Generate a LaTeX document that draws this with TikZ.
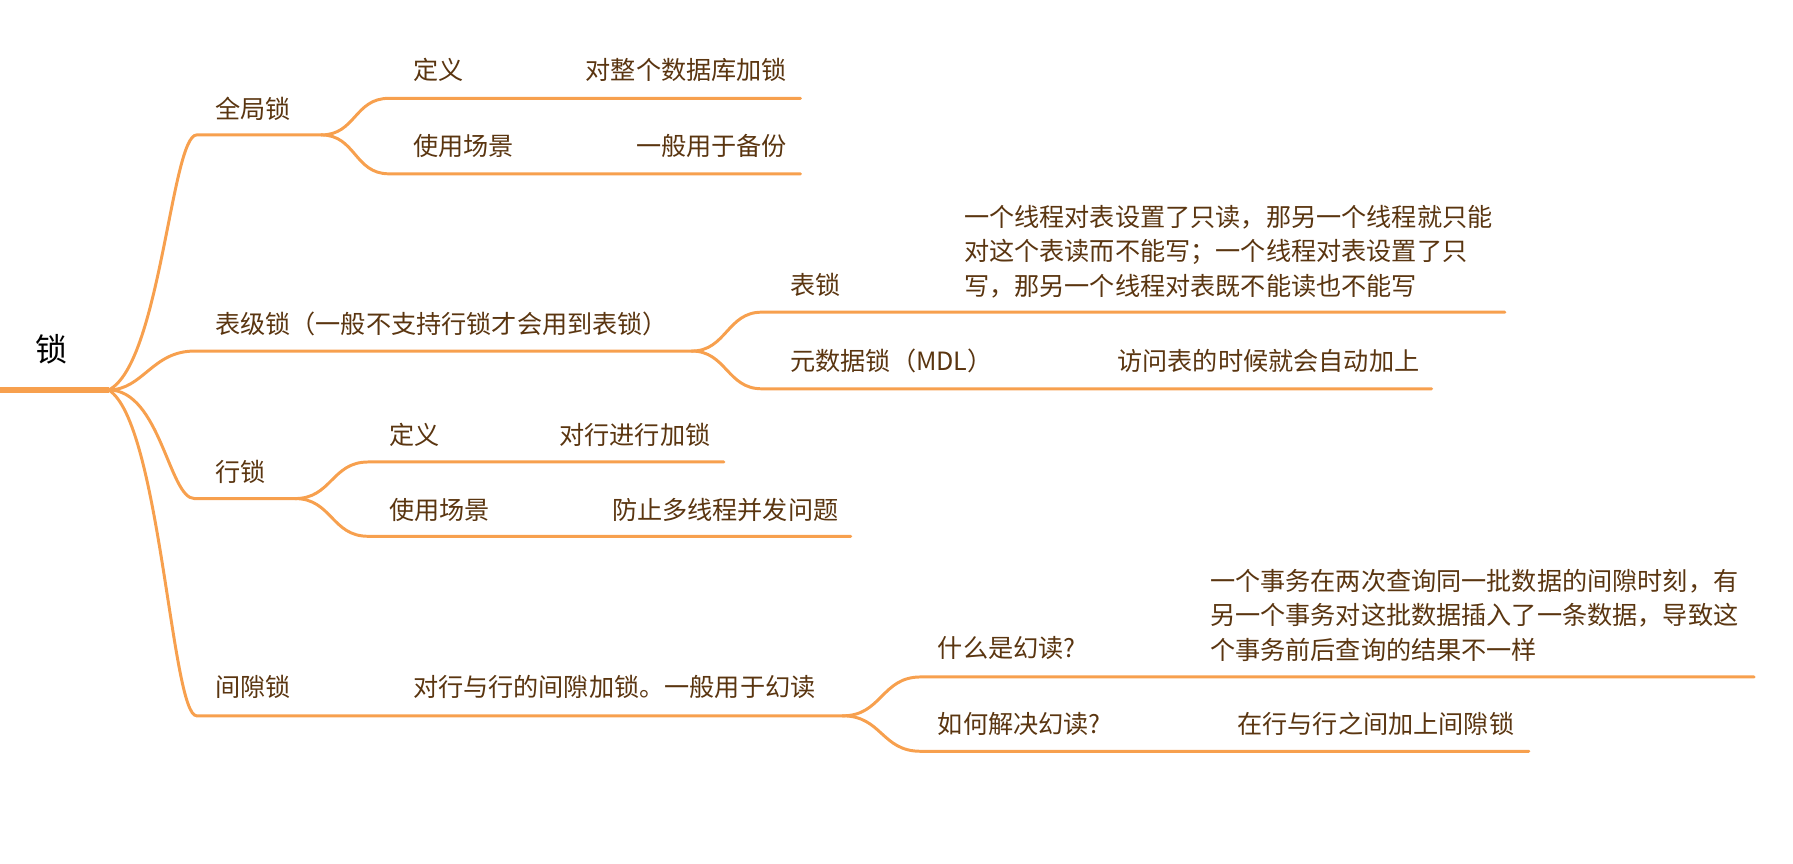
\documentclass[tikz,border=0pt]{standalone}
\usepackage{fontspec}
\setmainfont{Noto Sans CJK SC}
\definecolor{brc}{HTML}{F7A04E}
\definecolor{txc}{HTML}{5A3510}
\begin{document}
\begin{tikzpicture}[x=1pt,y=-1pt,
  lbl/.style={anchor=west,inner sep=0pt,text=txc,font=\fontsize{22}{30}\selectfont},
  mlbl/.style={lbl,align=left},
  edge/.style={draw=brc,line width=2.6pt,line cap=round},
  rootedge/.style={draw=brc,line width=4.5pt}
]
\useasboundingbox (0,0) rectangle (1568,755);

% root
\node[inner sep=0pt,font=\fontsize{28}{30}\selectfont,text=black] (root) at (45,305) {锁};
\coordinate (r0) at (0,341);
\coordinate (rf) at (95,341);
\draw[rootedge] (r0) -- (rf);

% level-1 coordinates
\coordinate (a0) at (172,118); \coordinate (af) at (281,118);
\coordinate (b0) at (170,307); \coordinate (bf) at (605,307);
\coordinate (c0) at (170,436); \coordinate (cf) at (258,436);
\coordinate (d0) at (172,626); \coordinate (df) at (737,626);

\draw[edge] (rf) .. controls +(45,-22) and +(-22,0) .. (a0) -- (af);
\draw[edge] (rf) .. controls +(30,0) and +(-37,0) .. (b0) -- (bf);
\draw[edge] (rf) .. controls +(45,0) and +(-22,0) .. (c0) -- (cf);
\draw[edge] (rf) .. controls +(45,28) and +(-22,0) .. (d0) -- (df);

% level-2 coordinates
\coordinate (a1) at (340,86);  \coordinate (a1e) at (700,86);
\coordinate (a2) at (340,152); \coordinate (a2e) at (700,152);
\coordinate (b1) at (666,273); \coordinate (b1e) at (1316,273);
\coordinate (b2) at (666,340); \coordinate (b2e) at (1252,340);
\coordinate (c1) at (322,404); \coordinate (c1e) at (633,404);
\coordinate (c2) at (322,469); \coordinate (c2e) at (744,469);
\coordinate (d1) at (805,592); \coordinate (d1e) at (1534,592);
\coordinate (d2) at (805,657); \coordinate (d2e) at (1337,657);

\draw[edge] (af) .. controls +(30,0) and +(-30,0) .. (a1) -- (a1e);
\draw[edge] (af) .. controls +(30,0) and +(-30,0) .. (a2) -- (a2e);
\draw[edge] (bf) .. controls +(30,0) and +(-30,0) .. (b1) -- (b1e);
\draw[edge] (bf) .. controls +(30,0) and +(-30,0) .. (b2) -- (b2e);
\draw[edge] (cf) .. controls +(32,0) and +(-32,0) .. (c1) -- (c1e);
\draw[edge] (cf) .. controls +(32,0) and +(-32,0) .. (c2) -- (c2e);
\draw[edge] (df) .. controls +(34,0) and +(-34,0) .. (d1) -- (d1e);
\draw[edge] (df) .. controls +(34,0) and +(-34,0) .. (d2) -- (d2e);

% texts
\node[lbl] (ta) at (188,95) {全局锁};
\node[lbl] (ta1) at (361,61) {定义};
\node[lbl] (ta1v) at (512,61) {对整个数据库加锁};
\node[lbl] (ta2) at (361,128) {使用场景};
\node[lbl] (ta2v) at (556,128) {一般用于备份};

\node[lbl] (tb) at (188,283) {表级锁（一般不支持行锁才会用到表锁）};
\node[lbl] (tb1) at (691,249) {表锁};
\node[mlbl] (tb1v) at (843,220) {一个线程对表设置了只读，那另一个线程就只能\\对这个表读而不能写；一个线程对表设置了只\\写，那另一个线程对表既不能读也不能写};
\node[lbl] (tb2) at (691,316) {元数据锁（MDL）};
\node[lbl] (tb2v) at (977,316) {访问表的时候就会自动加上};

\node[lbl] (tc) at (188,413) {行锁};
\node[lbl] (tc1) at (340,380) {定义};
\node[lbl] (tc1v) at (489,380) {对行进行加锁};
\node[lbl] (tc2) at (340,446) {使用场景};
\node[lbl] (tc2v) at (535,446) {防止多线程并发问题};

\node[lbl] (td) at (188,601) {间隙锁};
\node[lbl] (tdv) at (361,601) {对行与行的间隙加锁。一般用于幻读};
\node[lbl] (td1) at (820,567) {什么是幻读?};
\node[mlbl] (td1v) at (1058,538) {一个事务在两次查询同一批数据的间隙时刻，有\\另一个事务对这批数据插入了一条数据，导致这\\个事务前后查询的结果不一样};
\node[lbl] (td2) at (820,633) {如何解决幻读?};
\node[lbl] (td2v) at (1082,633) {在行与行之间加上间隙锁};
\end{tikzpicture}
\end{document}
